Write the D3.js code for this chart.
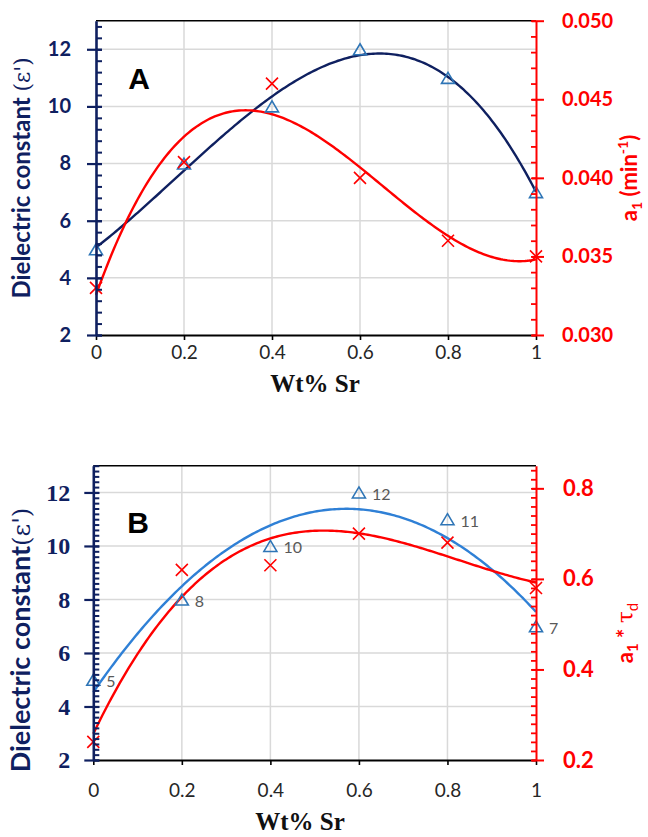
<!DOCTYPE html>
<html>
<head>
<meta charset="utf-8">
<script src="https://cdn.jsdelivr.net/npm/d3@7"></script>
<style>
  body { margin: 0; background: #fff; }
  svg { display: block; }
</style>
</head>
<body>
<svg id="chart" width="648" height="837"></svg>
<script>
// Strontium loading shared by both panels (wt%)
const wtSr = [0, 0.2, 0.4, 0.6, 0.8, 1];
// Dielectric constant ε'
const dielectric = [5, 8, 10, 12, 11, 7];
// Rate constant a1 (min^-1), panel A
const a1 = [0.033, 0.041, 0.046, 0.040, 0.036, 0.035];
// Product a1 * τd, panel B
const a1TauD = [0.24, 0.62, 0.63, 0.70, 0.68, 0.58];

// Axis tick values
const xTicks = [0, 0.2, 0.4, 0.6, 0.8, 1];
const dielectricTicks = [2, 4, 6, 8, 10, 12];
const a1Ticks = [0.030, 0.035, 0.040, 0.045, 0.050];
const a1TauDTicks = [0.2, 0.4, 0.6, 0.8];

const NAVY = "#0f2060";
const BLUE = "#2e75b6";
const RED = "#ff0000";
const GRID = "#d9d9d9";

const svg = d3.select("#chart");

// Least-squares polynomial trendline coefficients (lowest order first)
function polyfit(xs, ys, order) {
  const n = order + 1;
  const A = Array.from({length: n}, () => new Array(n + 1).fill(0));
  for (let r = 0; r < n; r++) {
    for (let c = 0; c < n; c++) A[r][c] = d3.sum(xs, x => Math.pow(x, r + c));
    A[r][n] = d3.sum(xs, (x, i) => ys[i] * Math.pow(x, r));
  }
  for (let i = 0; i < n; i++) {
    let p = i;
    for (let k = i + 1; k < n; k++) if (Math.abs(A[k][i]) > Math.abs(A[p][i])) p = k;
    [A[i], A[p]] = [A[p], A[i]];
    for (let k = 0; k < n; k++) {
      if (k === i) continue;
      const f = A[k][i] / A[i][i];
      for (let c = i; c <= n; c++) A[k][c] -= f * A[i][c];
    }
  }
  return A.map((row, i) => row[n] / row[i]);
}
const polyval = (coef, x) => coef.reduce((s, c, i) => s + c * Math.pow(x, i), 0);

const triPath = "M0,-5.5L6.5,5.5L-6.5,5.5Z";
const crossPath = "M-6,-6L6,6M-6,6L6,-6";

function drawPanel(p) {
  const g = svg.append("g");
  const x = d3.scaleLinear().domain([0, 1]).range([p.left, p.right]);
  const yL = d3.scaleLinear().domain([2, 13]).range([p.bottom, p.top]);
  const yR = d3.scaleLinear().domain(p.rightDomain).range([p.bottom, p.top]);

  // gridlines
  g.append("g").selectAll("line").data(xTicks.slice(1, -1)).join("line")
    .attr("x1", d => x(d)).attr("x2", d => x(d))
    .attr("y1", yL(13)).attr("y2", yL(2))
    .attr("stroke", GRID).attr("stroke-width", 1.5);
  g.append("g").selectAll("line").data(dielectricTicks.slice(1)).join("line")
    .attr("x1", x(0)).attr("x2", x(1))
    .attr("y1", d => yL(d)).attr("y2", d => yL(d))
    .attr("stroke", GRID).attr("stroke-width", 1.5);
  // top frame
  g.append("line").attr("x1", x(0)).attr("x2", x(1))
    .attr("y1", yL(13)).attr("y2", yL(13))
    .attr("stroke", "#000").attr("stroke-width", 1.6);

  // trendlines
  const samples = d3.range(0, 1.0001, 0.005);
  const cL = polyfit(wtSr, dielectric, p.leftOrder);
  const cR = polyfit(wtSr, p.rightValues, p.rightOrder);
  g.append("path")
    .attr("d", d3.line().x(d => x(d)).y(d => yL(polyval(cL, d)))(samples))
    .attr("fill", "none").attr("stroke", p.leftCurve).attr("stroke-width", 2.4);
  g.append("path")
    .attr("d", d3.line().x(d => x(d)).y(d => yR(polyval(cR, d)))(samples))
    .attr("fill", "none").attr("stroke", RED).attr("stroke-width", 2.4);

  // markers
  g.append("g").selectAll("path").data(wtSr).join("path")
    .attr("d", triPath)
    .attr("transform", (d, i) => `translate(${x(d)},${yL(dielectric[i])})`)
    .attr("fill", "none").attr("stroke", BLUE).attr("stroke-width", 1.6);
  g.append("g").selectAll("path").data(wtSr).join("path")
    .attr("d", crossPath)
    .attr("transform", (d, i) => `translate(${x(d)},${yR(p.rightValues[i])})`)
    .attr("fill", "none").attr("stroke", RED).attr("stroke-width", 1.6);

  if (p.dataLabels) {
    g.append("g").selectAll("text").data(wtSr).join("text")
      .attr("x", d => x(d) + 13)
      .attr("y", (d, i) => yL(dielectric[i]) + 1)
      .attr("dominant-baseline", "central")
      .attr("font-family", "Lato, sans-serif").attr("font-size", 16)
      .attr("fill", "#595959")
      .text((d, i) => dielectric[i]);
  }

  // bottom axis
  const xa = g.append("g").attr("transform", `translate(0,${p.bottom})`)
    .call(d3.axisBottom(x).tickValues(xTicks).tickSizeInner(5).tickSizeOuter(0)
      .tickPadding(p.xPad).tickFormat(d => String(d)));
  xa.select(".domain").attr("stroke", "#000").attr("stroke-width", 2);
  xa.selectAll(".tick line").attr("stroke", "#000").attr("stroke-width", 1.6);
  xa.selectAll("text").attr("font-family", "Lato, sans-serif").attr("font-size", 19)
    .attr("fill", "#262626");

  // left axis: minor ticks inside, majors crossing
  const lmin = g.append("g").attr("transform", `translate(${p.left},0)`)
    .call(d3.axisLeft(yL).tickValues(p.leftMinor).tickSize(-6).tickFormat(""));
  lmin.select(".domain").remove();
  lmin.selectAll("line").attr("stroke", NAVY).attr("stroke-width", 2);
  const la = g.append("g").attr("transform", `translate(${p.left},0)`)
    .call(d3.axisLeft(yL).tickValues(dielectricTicks).tickSizeInner(9).tickSizeOuter(0)
      .tickPadding(p.leftPad));
  la.select(".domain").attr("stroke", NAVY).attr("stroke-width", 2.6);
  la.selectAll(".tick line").attr("x1", 6).attr("stroke", NAVY).attr("stroke-width", 2.2);
  la.selectAll("text").attr("font-family", p.leftFont).attr("font-weight", "bold")
    .attr("font-size", p.leftSize).attr("fill", NAVY);

  // right axis
  const rmin = g.append("g").attr("transform", `translate(${p.right},0)`)
    .call(d3.axisRight(yR).tickValues(p.rightMinor).tickSize(-5).tickFormat(""));
  rmin.select(".domain").remove();
  rmin.selectAll("line").attr("stroke", RED).attr("stroke-width", 1.8);
  const ra = g.append("g").attr("transform", `translate(${p.right},0)`)
    .call(d3.axisRight(yR).tickValues(p.rightTicks).tickSizeInner(8).tickSizeOuter(0)
      .tickPadding(p.rightPad).tickFormat(d3.format(p.rightFormat)));
  ra.select(".domain").attr("stroke", RED).attr("stroke-width", 2);
  ra.selectAll(".tick line").attr("x1", -4).attr("stroke", RED).attr("stroke-width", 2);
  ra.selectAll("text").attr("font-family", "Lato, sans-serif").attr("font-weight", "bold")
    .attr("font-size", p.rightSize).attr("fill", RED);

  // panel letter
  g.append("text").attr("x", p.letterX).attr("y", p.letterY)
    .attr("text-anchor", "middle")
    .attr("font-family", "Liberation Sans, Arial, sans-serif").attr("font-weight", "bold")
    .attr("font-size", 30).attr("fill", "#000").text(p.letter);

  // x title
  g.append("text").attr("x", p.xTitleX).attr("y", p.xTitleY)
    .attr("text-anchor", "middle")
    .attr("font-family", "Liberation Serif, serif").attr("font-weight", "bold")
    .attr("font-size", 25).attr("fill", "#111").text("Wt% Sr");

  // left title
  const lt = g.append("text")
    .attr("transform", `translate(${p.leftTitleX},${p.leftTitleY}) rotate(-90)`)
    .attr("text-anchor", "middle")
    .attr("font-family", "Lato, sans-serif").attr("font-weight", "bold")
    .attr("font-size", p.leftTitleSize).attr("fill", NAVY);
  lt.append("tspan").text(p.leftTitle);
  lt.append("tspan").attr("font-weight", "normal")
    .attr("font-family", "DejaVu Serif, serif").attr("font-size", p.leftTitleSize * 0.9)
    .text("(ε')");

  // right title
  const rt = g.append("text")
    .attr("transform", `translate(${p.rightTitleX},${p.rightTitleY}) rotate(-90)`)
    .attr("text-anchor", "middle")
    .attr("font-family", "Lato, sans-serif").attr("font-weight", "bold")
    .attr("font-size", p.rightTitleSize).attr("fill", RED);
  p.rightTitle(rt);
}

drawPanel({
  left: 96, right: 536, top: 20.7, bottom: 335,
  rightDomain: [0.030, 0.050], rightValues: a1, rightTicks: a1Ticks,
  rightMinor: d3.range(0.030, 0.0505, 0.001), rightFormat: ".3f",
  leftMinor: d3.range(2, 13.01, 0.4),
  leftOrder: 3, rightOrder: 3, leftCurve: NAVY,
  dataLabels: false,
  xPad: 6, leftPad: 16, rightPad: 18,
  leftFont: "Lato, sans-serif", leftSize: 20, rightSize: 20,
  letter: "A", letterX: 139, letterY: 89,
  xTitleX: 315, xTitleY: 392,
  leftTitle: "Dielectric constant ", leftTitleX: 30, leftTitleY: 178, leftTitleSize: 24,
  rightTitleX: 637, rightTitleY: 178, rightTitleSize: 22,
  rightTitle: t => {
    t.append("tspan").text("a");
    t.append("tspan").attr("font-size", 14).attr("dy", 5).text("1");
    t.append("tspan").attr("dy", -5).text(" (min");
    t.append("tspan").attr("font-size", 14).attr("dy", -9).text("-1");
    t.append("tspan").attr("dy", 9).text(")");
  }
});

drawPanel({
  left: 93.3, right: 536, top: 465.7, bottom: 760,
  rightDomain: [0.2, 0.85], rightValues: a1TauD, rightTicks: a1TauDTicks,
  rightMinor: d3.range(0.2, 0.851, 0.02), rightFormat: ".1f",
  leftMinor: d3.range(2, 13.01, 0.2),
  leftOrder: 2, rightOrder: 3, leftCurve: "#2f80d6",
  dataLabels: true,
  xPad: 19, leftPad: 14, rightPad: 19,
  leftFont: "Liberation Serif, serif", leftSize: 24, rightSize: 22,
  letter: "B", letterX: 138, letterY: 533,
  xTitleX: 300, xTitleY: 830,
  leftTitle: "Dielectric constant", leftTitleX: 30, leftTitleY: 640, leftTitleSize: 27,
  rightTitleX: 633, rightTitleY: 633, rightTitleSize: 22,
  rightTitle: t => {
    t.append("tspan").text("a");
    t.append("tspan").attr("font-size", 15).attr("dy", 5).text("1");
    t.append("tspan").attr("dy", -5).text(" * ");
    t.append("tspan").attr("font-weight", "normal").attr("font-family", "DejaVu Serif, serif").text("τ");
    t.append("tspan").attr("font-size", 15).attr("dy", 5).attr("font-weight", "normal").text("d");
  }
});
</script>
</body>
</html>
